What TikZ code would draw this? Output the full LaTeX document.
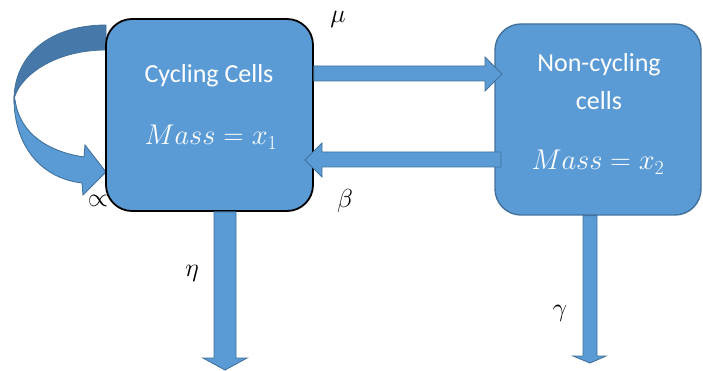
\RequirePackage{fix-cm}
\documentclass[tikz,border=0pt]{standalone}
\usepackage{fontspec}
\setmainfont{Carlito}
\usetikzlibrary{calc}
\definecolor{bfill}{HTML}{5B9BD5}
\definecolor{bline}{HTML}{41719C}
\definecolor{bdark}{HTML}{4679AA}
\begin{document}
\begin{tikzpicture}[x=1pt,y=-1pt,
  box/.style={rounded corners=26pt, fill=bfill, minimum width=#1, inner sep=0pt},
  txt/.style={inner sep=0pt, text=white, font=\fontsize{26}{30}\selectfont},
  mtxt/.style={inner sep=0pt, text=white, font=\fontsize{28.5}{33}\selectfont},
  fat/.style={fill=bfill, draw=bline, line width=0.9pt, line join=miter},
  lbl/.style={font=\fontsize{26}{30}\selectfont, inner sep=0pt}]
\useasboundingbox (0,0) rectangle (703,371);
% loop arrow (alpha)
\fill[bdark, draw=bline, line width=0.8pt] (106,25) .. controls (50,25) and (14,55) .. (14,100)
   .. controls (17,80) and (50,50) .. (106,50) -- cycle;
\path[fat] (14,98) .. controls (14,145) and (40,178) .. (82,183) -- (83,195) -- (106,172) -- (85,145) -- (84,157)
   .. controls (50,152) and (20,135) .. (15,100) -- cycle;
% boxes
\node[box=207pt, minimum height=192pt, draw=black, line width=1.8pt] (c1) at (209.5,115) {};
\node[box=206pt, minimum height=191pt, draw=bline, line width=1.4pt] (c2) at (598,119.5) {};
\node[txt, anchor=base] (t1) at (209,83) {Cycling Cells};
\node[mtxt, anchor=base] (m1) at (211,145) {$Mass = x_1$};
\node[txt, anchor=base] (t2) at (599,72) {Non-cycling};
\node[txt, anchor=base] (t2b) at (599,110) {cells};
\node[mtxt, anchor=base] (m2) at (598,170) {$Mass = x_2$};
% mu arrow c1 -> c2
\path[fat] (c1.east |- 0,66) -- (485,66) -- (485,57) -- (502,74) -- (485,91) -- (485,81) -- (c1.east |- 0,81) -- cycle;
% beta arrow c2 -> c1
\path[fat] (501,152) -- (322,152) -- (322,143) -- (305,160) -- (322,177) -- (322,167) -- (501,167) -- cycle;
% eta arrow
\path[fat] (c1.south -| 214,0) -- (214,358) -- (203,358) -- (225,370) -- (247,358) -- (236,358) -- (c1.south -| 236,0) -- cycle;
% gamma arrow
\path[fat] (c2.south -| 583,0) -- (583,356) -- (573,356) -- (590,363) -- (606,356) -- (597,356) -- (c2.south -| 597,0) -- cycle;
% labels
\node[lbl] (mu) at (338,19) {$\mu$};
\node[lbl] (beta) at (345,201) {$\beta$};
\node[lbl] (alpha) at (98,201) {$\propto$};
\node[lbl] (eta) at (192,273) {$\eta$};
\node[lbl] (gamma) at (560,313) {$\gamma$};
\end{tikzpicture}
\end{document}
